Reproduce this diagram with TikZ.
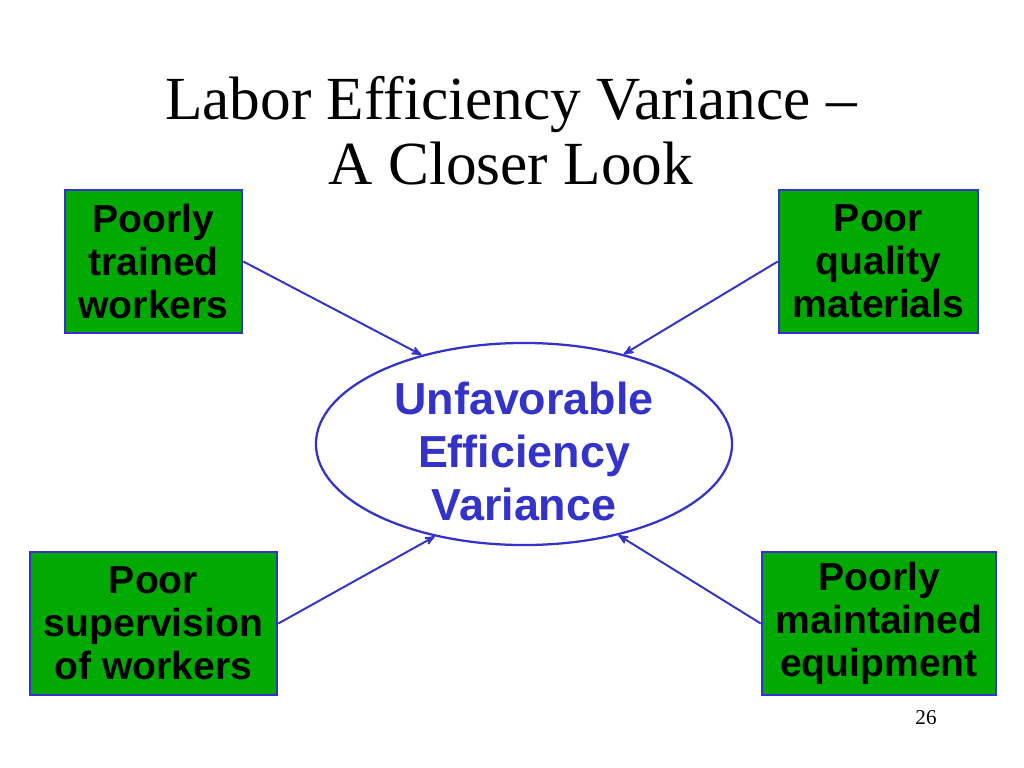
\documentclass[tikz,border=0pt]{standalone}
\usepackage{fontspec}
\setmainfont{Liberation Serif}
\setsansfont{Liberation Sans}
\usepackage{tikz}
\usetikzlibrary{positioning,shapes,arrows}
\definecolor{boxgreen}{RGB}{0,170,0}
\definecolor{lineblue}{RGB}{51,51,204}
\tikzset{
  cause/.style  = {rectangle, draw=lineblue, line width=1.8pt, fill=boxgreen,
                   align=center, inner sep=0pt, minimum height=3.575cm,
                   font=\sffamily\bfseries\fontsize{27.8}{30.5}\selectfont},
  effect/.style = {ellipse, draw=lineblue, line width=1.6pt, fill=white,
                   align=center, inner xsep=0pt, inner ysep=-6pt,
                   minimum width=10.4cm, minimum height=5.05cm, text=lineblue,
                   font=\sffamily\bfseries\fontsize{31.9}{37.9}\selectfont},
  title/.style  = {align=center, font=\fontsize{43.6}{46}\selectfont},
  post/.style   = {->, >=stealth', line width=1.4pt, draw=lineblue}
}
\begin{document}
\begin{tikzpicture}[x=0.025cm, y=-0.025cm]
  \useasboundingbox (0,0) rectangle (1024,768);
  % title
  \node[title] (title) at (511,130.5) {Labor Efficiency Variance --\\A Closer Look};
  % the effect
  \node[effect] (eff) at (524,444) {\rule{0pt}{34pt}Unfavorable\\Efficiency\\Variance};
  % the causes
  \node[cause, minimum width=4.425cm] (trained)     at (153.5,261.5) {Poorly\\trained\\workers};
  \node[cause, minimum width=4.975cm] (materials)   at (878.5,261.5) {Poor\\quality\\materials};
  \node[cause, minimum width=6.175cm] (supervision) at (153.5,623.5) {Poor\\supervision\\of workers};
  \node[cause, minimum width=5.85cm]  (equipment)   at (879,623.5)   {Poorly\\maintained\\equipment};
  \path (trained.east)     edge[post] (eff.139)
        (materials.west)   edge[post] (eff.42)
        (supervision.east) edge[post] (eff.226)
        (equipment.west)   edge[post] (eff.-44);
  \node[font=\fontsize{15}{18}\selectfont] (page) at (926,718) {26};
\end{tikzpicture}
\end{document}
